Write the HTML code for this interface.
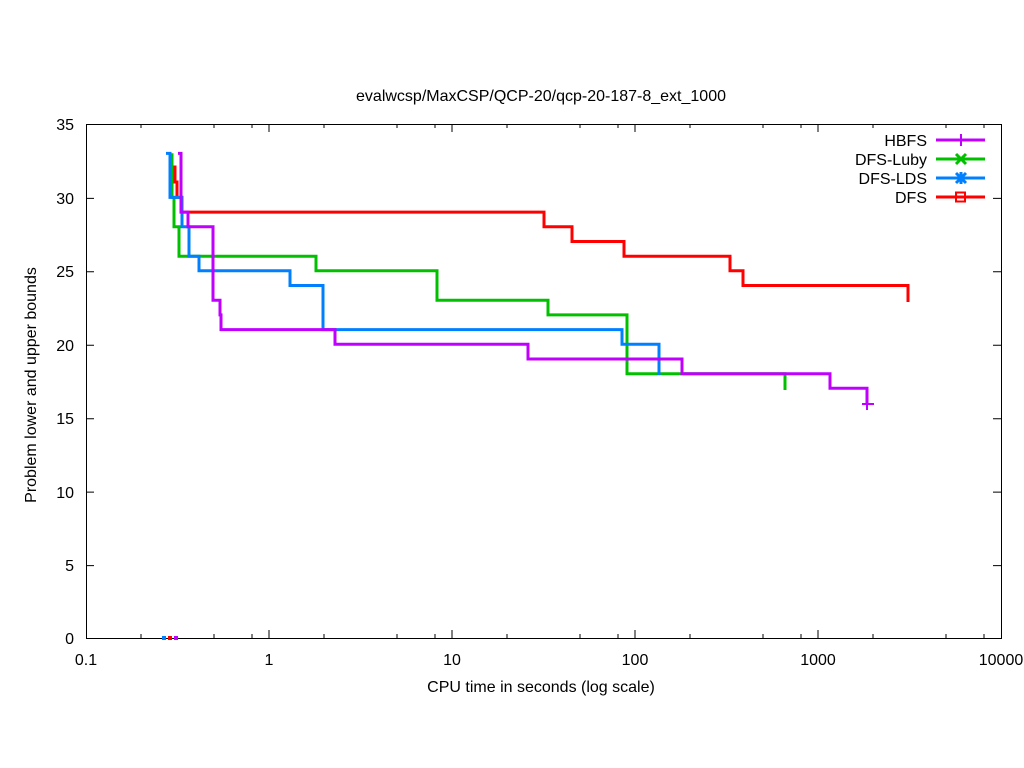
<!DOCTYPE html>
<html><head><meta charset="utf-8"><style>body{margin:0;background:#fff}svg{display:block}text{font-family:"Liberation Sans",sans-serif;font-size:16px;fill:#000}</style></head><body>
<svg width="1024" height="768" viewBox="0 0 1024 768" xmlns="http://www.w3.org/2000/svg">
<rect width="1024" height="768" fill="#fff"/>
<text x="541" y="101" text-anchor="middle">evalwcsp/MaxCSP/QCP-20/qcp-20-187-8_ext_1000</text>
<g stroke="#000" stroke-width="1" fill="none">
<rect x="86.5" y="124.5" width="915" height="514"/>
<path d="M86 565.6h8M1001 565.6h-8M86 492.1h8M1001 492.1h-8M86 418.7h8M1001 418.7h-8M86 345.3h8M1001 345.3h-8M86 271.8h8M1001 271.8h-8M86 198.4h8M1001 198.4h-8"/>
<path d="M269 638v-8M269 124v8M452 638v-8M452 124v8M635 638v-8M635 124v8M818 638v-8M818 124v8"/>
<path d="M141 638v-4M141 124v4M214 638v-4M214 124v4M252 638v-4M252 124v4"/>
<path d="M324 638v-4M324 124v4M397 638v-4M397 124v4M435 638v-4M435 124v4"/>
<path d="M507 638v-4M507 124v4M580 638v-4M580 124v4M618 638v-4M618 124v4"/>
<path d="M690 638v-4M690 124v4M763 638v-4M763 124v4M801 638v-4M801 124v4"/>
<path d="M873 638v-4M873 124v4M946 638v-4M946 124v4M984 638v-4M984 124v4"/>
</g>
<g text-anchor="end">
<text x="74" y="644">0</text><text x="74" y="571">5</text><text x="74" y="498">10</text><text x="74" y="424">15</text><text x="74" y="351">20</text><text x="74" y="277">25</text><text x="74" y="204">30</text><text x="74" y="130">35</text>
</g>
<g text-anchor="middle">
<text x="86" y="665">0.1</text><text x="269" y="665">1</text><text x="452" y="665">10</text><text x="635" y="665">100</text><text x="818" y="665">1000</text><text x="1001" y="665">10000</text>
<text x="541" y="692">CPU time in seconds (log scale)</text>
</g>
<text transform="translate(36,385) rotate(-90)" text-anchor="middle">Problem lower and upper bounds</text>
<g fill="none" stroke-width="3">
<path stroke="#ff0000" d="M172 153.4V167H175V182H177V197.4H182V212.1H544V226.8H572V241.5H624V256.2H730V270.8H743V285.5H908V302"/>
<path stroke="#00c000" d="M172 153.4V197.4H174V226.8H179V256.2H316V270.8H437V300.2H548V314.9H627V373.7H785V390"/>
<path stroke="#0080ff" d="M166 153.4H170V197.4H182V226.8H189V256.2H199V270.8H290V285.5H323V329.6H622V344.3H659V375"/>
<path stroke="#c000ff" d="M178 153.4H181V212.1H188V226.8H213V300.2H220V314.9H221V329.6H335V344.3H528V359H682V373.7H830V388.3H867V405"/>
</g>
<path d="M862 404H874M867 398V410" stroke="#c000ff" stroke-width="2"/>
<rect x="162" y="636" width="4" height="4" fill="#0080ff"/><rect x="168" y="636" width="4" height="4" fill="#ff0000"/><rect x="174" y="636" width="4" height="4" fill="#c000ff"/>
<g text-anchor="end">
<text x="927" y="146">HBFS</text><text x="927" y="165">DFS-Luby</text><text x="927" y="184">DFS-LDS</text><text x="927" y="203">DFS</text>
</g>
<g stroke-width="3" fill="none">
<path stroke="#c000ff" d="M936 140H985"/><path stroke="#c000ff" stroke-width="2" d="M961 134V146"/>
<path stroke="#00c000" d="M936 159H985M956 154L966 164M966 154L956 164"/>
<path stroke="#0080ff" d="M936 178H985M956 173L966 183M966 173L956 183M961 172V184"/>
<path stroke="#ff0000" d="M936 197H985"/><rect x="956" y="192.5" width="9" height="9" stroke="#ff0000" stroke-width="2" fill="none"/>
</g>
</svg>
</body></html>
